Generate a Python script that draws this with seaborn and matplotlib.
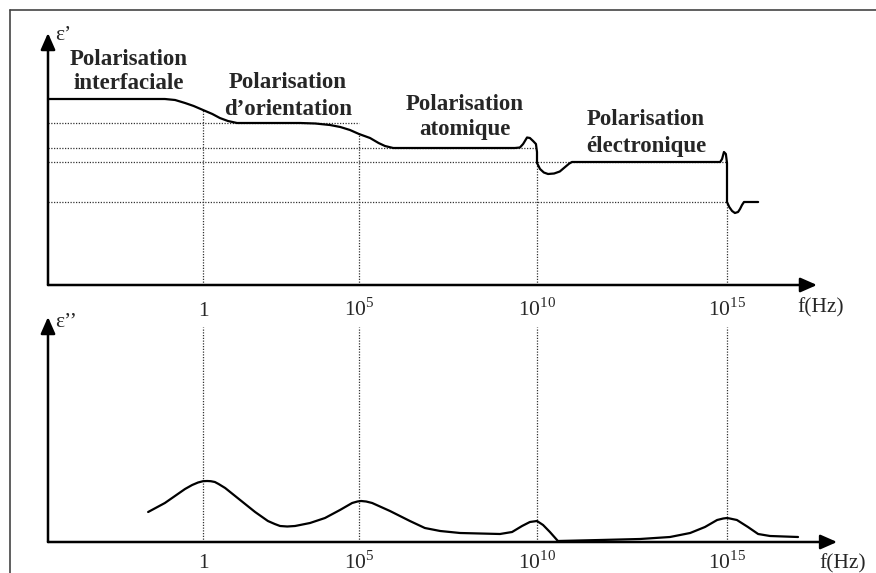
import numpy as np
import matplotlib.pyplot as plt
import seaborn as sns
from matplotlib.lines import Line2D

# x values are log10(f / Hz), epsilon values in arbitrary units
tick_decades = [0, 5, 10, 15]
tick_labels = ['1', r'$10^{5}$', r'$10^{10}$', r'$10^{15}$']

# epsilon' (real part)
eps1_logf = [-5, -1.23, -0.9, -0.58, -0.3, 0, 0.3, 0.54, 0.8, 1.09,
             3.11, 3.6, 4.07, 4.4, 4.71, 5.0, 5.31, 5.55, 5.73, 5.96,
             9.38, 9.52, 9.61, 9.72, 9.80, 9.89, 9.97, 10.0, 10.0, 10.08,
             10.18, 10.29, 10.45, 10.6, 10.74, 10.85, 10.92,
             14.82, 14.87, 14.92, 14.97, 15.0, 15.0, 15.08, 15.18, 15.28,
             15.39, 15.46, 15.53, 15.6, 16.1]
eps1_val = [18.6, 18.6, 18.5, 18.2, 17.9, 17.5, 17.1, 16.7, 16.4, 16.2,
            16.2, 16.15, 16.0, 15.8, 15.5, 15.1, 14.7, 14.2, 13.9, 13.7,
            13.7, 13.75, 14.1, 14.75, 14.7, 14.4, 14.1, 13.3, 12.2, 11.6,
            11.25, 11.1, 11.15, 11.35, 11.8, 12.15, 12.3,
            12.3, 12.6, 13.3, 13.1, 12.2, 8.3, 7.8, 7.4, 7.2,
            7.3, 7.6, 8.0, 8.3, 8.3]

# epsilon'' (imaginary part)
eps2_logf = [-1.77, -1.23, -0.58, -0.35, -0.16, 0.0, 0.13, 0.25, 0.38,
             0.5, 0.71, 1.19, 1.67, 2.08, 2.3, 2.47, 2.7, 2.95, 3.43, 3.91,
             4.39, 4.78, 4.95, 5.06, 5.2, 5.37, 5.87, 6.43, 6.85, 7.28,
             7.84, 8.96, 9.30, 9.58, 9.80, 10.0, 10.16, 10.34, 10.55,
             11.66, 12.71, 13.50, 14.03, 14.42, 14.74, 14.9, 15.0, 15.1,
             15.35, 15.74, 16.10, 16.52, 17.51]
eps2_val = [3.0, 3.9, 5.3, 5.7, 5.95, 6.08, 6.1, 6.08, 6.0,
            5.8, 5.4, 4.2, 3.0, 2.1, 1.8, 1.6, 1.55, 1.6, 1.9, 2.4,
            3.2, 3.9, 4.05, 4.1, 4.05, 3.9, 3.1, 2.1, 1.4, 1.1,
            0.9, 0.8, 1.0, 1.6, 2.0, 2.1, 1.7, 1.0, 0.1,
            0.2, 0.3, 0.5, 0.9, 1.5, 2.2, 2.35, 2.4, 2.35,
            2.2, 1.5, 0.8, 0.6, 0.5]

# plateaus of epsilon' and the frequency where each guide line stops
plateau_levels = [16.2, 13.7, 12.3, 8.3]
plateau_ends = [5, 10, 15, 15]
eps1_at_ticks = [17.5, 15.2, 12.0, 8.3]

regions = [['Polarisation', 'interfaciale'],
           ['Polarisation', 'd\u2019orientation'],
           ['Polarisation', 'atomique'],
           ['Polarisation', '\u00e9lectronique']]
region_x = [-2.39, 2.72, 7.98, 12.87]
region_y = [[22.0, 19.6], [19.7, 17.0], [17.5, 15.0], [16.0, 13.3]]

# schematic (non-uniform) frequency axis: decades -> horizontal pixel
dec_knots = [-30, 0, 5, 10, 15, 40]
px_knots = [-727, 203, 359, 537, 727, 1434.5]


def fwd(x):
    return np.interp(x, dec_knots, px_knots)


def inv(p):
    return np.interp(p, px_knots, dec_knots)


sns.set_theme(style='white')
plt.rcParams['font.family'] = ['Liberation Serif', 'DejaVu Serif']
plt.rcParams['mathtext.fontset'] = 'custom'
plt.rcParams['mathtext.rm'] = 'Liberation Serif'

W, H = 876, 573
fig = plt.figure(figsize=(W / 100, H / 100), dpi=100)
ax1 = fig.add_axes([0, (H - 285) / H, 1, 255 / H])
ax2 = fig.add_axes([0, (H - 542) / H, 1, 227 / H])

dot = dict(color='#333333', lw=0.9, linestyle=(0, (1, 1.2)))
fs = 15.5

for ax, top in [(ax1, 25.5), (ax2, 22.7)]:
    ax.set_xscale('function', functions=(fwd, inv))
    ax.set_xlim(inv(0), inv(W))
    ax.set_ylim(0, top)
    ax.patch.set_alpha(0)
    for s in ax.spines.values():
        s.set_visible(False)

# epsilon'
ax1.hlines(plateau_levels, -5, plateau_ends, **dot)
ax1.vlines(tick_decades, 0, eps1_at_ticks, **dot)
sns.lineplot(x=eps1_logf, y=eps1_val, sort=False, estimator=None,
             color='black', lw=1.6, solid_joinstyle='round', ax=ax1)

# epsilon''
ax2.vlines(tick_decades, 0, 21.5, **dot)
sns.lineplot(x=eps2_logf, y=eps2_val, sort=False, estimator=None,
             color='black', lw=1.6, solid_joinstyle='round', ax=ax2)

arrow = dict(arrowstyle='-|>,head_length=0.5,head_width=0.22', lw=1.8,
             color='black', shrinkA=0, shrinkB=0, mutation_scale=20)
ax1.annotate('', xy=(18.18, 0), xytext=(-5, 0), arrowprops=arrow)
ax1.annotate('', xy=(-5, 25.2), xytext=(-5, 0), arrowprops=arrow)
ax2.annotate('', xy=(18.89, 0), xytext=(-5, 0), arrowprops=arrow)
ax2.annotate('', xy=(-5, 22.5), xytext=(-5, 0), arrowprops=arrow)

for ax, yb in [(ax1, -3.1), (ax2, -2.65)]:
    ax.set_xticks([])
    ax.set_yticks([])
    for xd, lab in zip(tick_decades, tick_labels):
        ax.text(xd, yb, lab, ha='center', va='baseline', fontsize=fs,
                clip_on=False)

ax1.text(17.47, -2.7, 'f(Hz)', ha='left', va='baseline', fontsize=fs,
         clip_on=False)
ax2.text(18.25, -2.65, 'f(Hz)', ha='left', va='baseline', fontsize=fs,
         clip_on=False)
ax1.text(-4.77, 24.5, '\u03b5\u2019', ha='left', va='baseline', fontsize=fs)
ax2.text(-4.77, 21.5, '\u03b5\u2019\u2019', ha='left', va='baseline',
         fontsize=fs)

for lines, xr, ys in zip(regions, region_x, region_y):
    for txt, yy in zip(lines, ys):
        ax1.text(xr, yy, txt, ha='center', va='baseline', fontsize=16.5,
                 fontweight='bold')

# outer frame (left and top edges visible)
fig.add_artist(Line2D([10 / W, 10 / W], [0, 1 - 10 / H],
                      transform=fig.transFigure, color='#444444', lw=1.2))
fig.add_artist(Line2D([10 / W, 1], [1 - 10 / H, 1 - 10 / H],
                      transform=fig.transFigure, color='#444444', lw=1.2))

fig.savefig('out.png', dpi=100)
